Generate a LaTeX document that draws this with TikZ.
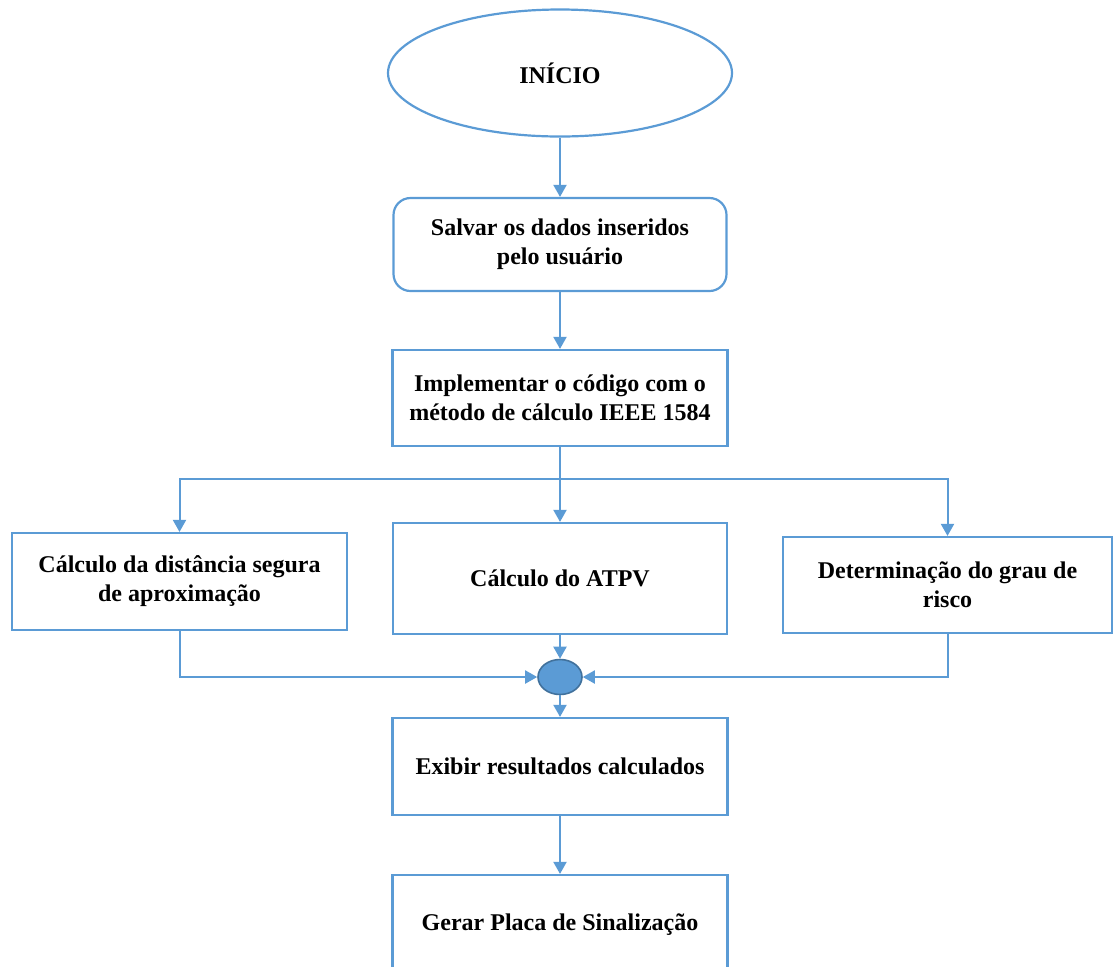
\documentclass[tikz,border=0pt]{standalone}
\usepackage{fontspec}
\setmainfont{Liberation Serif}
\usetikzlibrary{shapes.geometric,arrows.meta}
\definecolor{flowblue}{HTML}{5B9BD5}
\definecolor{flowdark}{HTML}{41719C}
\tikzset{
  flowbox/.style={draw=flowblue, line width=1.1pt, align=center, inner sep=0pt,
    font=\fontsize{12}{14.5}\selectfont\bfseries},
  startnode/.style={flowbox, ellipse, minimum width=172pt, minimum height=63.5pt},
  roundbox/.style={flowbox, rectangle, rounded corners=8.5pt, minimum width=166.5pt, minimum height=46.5pt},
  squarebox/.style={flowbox, rectangle, minimum width=167.5pt, minimum height=48pt},
  joinnode/.style={ellipse, draw=flowdark, fill=flowblue, line width=0.8pt, minimum width=22pt, minimum height=17.5pt, inner sep=0pt},
  flowline/.style={draw=flowblue, line width=1pt, -{Triangle[width=6.5pt,length=6pt]}}
}
\begin{document}
\begin{tikzpicture}[x=0.5pt, y=-0.5pt]
      \clip (0,0) rectangle (1114,966);
      \draw
        (560,73) node[startnode] (inicio){INÍCIO}
        (560,244.5) node[roundbox] (salvar){Salvar os dados inseridos\\pelo usuário}
        (560,398) node[squarebox] (implementar){Implementar o código com o\\método de cálculo IEEE 1584}
        (179.5,581.5) node[squarebox, minimum width=167.5pt, minimum height=48.5pt] (distancia){Cálculo da distância segura\\de aproximação}
        (560,578.5) node[squarebox, minimum width=167pt, minimum height=55.5pt] (atpv){Cálculo do ATPV}
        (947.5,585) node[squarebox, minimum width=164.5pt, minimum height=48pt] (risco){Determinação do grau de\\risco}
        (560,677) node[joinnode] (juncao){}
        (560,766.5) node[squarebox, minimum height=48.5pt] (exibir){Exibir resultados calculados}
        (560,925) node[squarebox, minimum height=50pt] (placa){Gerar Placa de Sinalização};
      \coordinate (ramo) at (560,479);
      \begin{scope}[flowline]
        \draw (inicio) to (salvar);
        \draw (salvar) to (implementar);
        \draw[-] (implementar) to (ramo);
        \draw (ramo) to (atpv);
        \draw (ramo) -| (distancia);
        \draw (ramo) -| (risco);
        \draw (distancia) |- (juncao);
        \draw (atpv) to (juncao);
        \draw (risco) |- (juncao);
        \draw (juncao) to (exibir);
        \draw (exibir) to (placa);
      \end{scope}
    \end{tikzpicture}
\end{document}
